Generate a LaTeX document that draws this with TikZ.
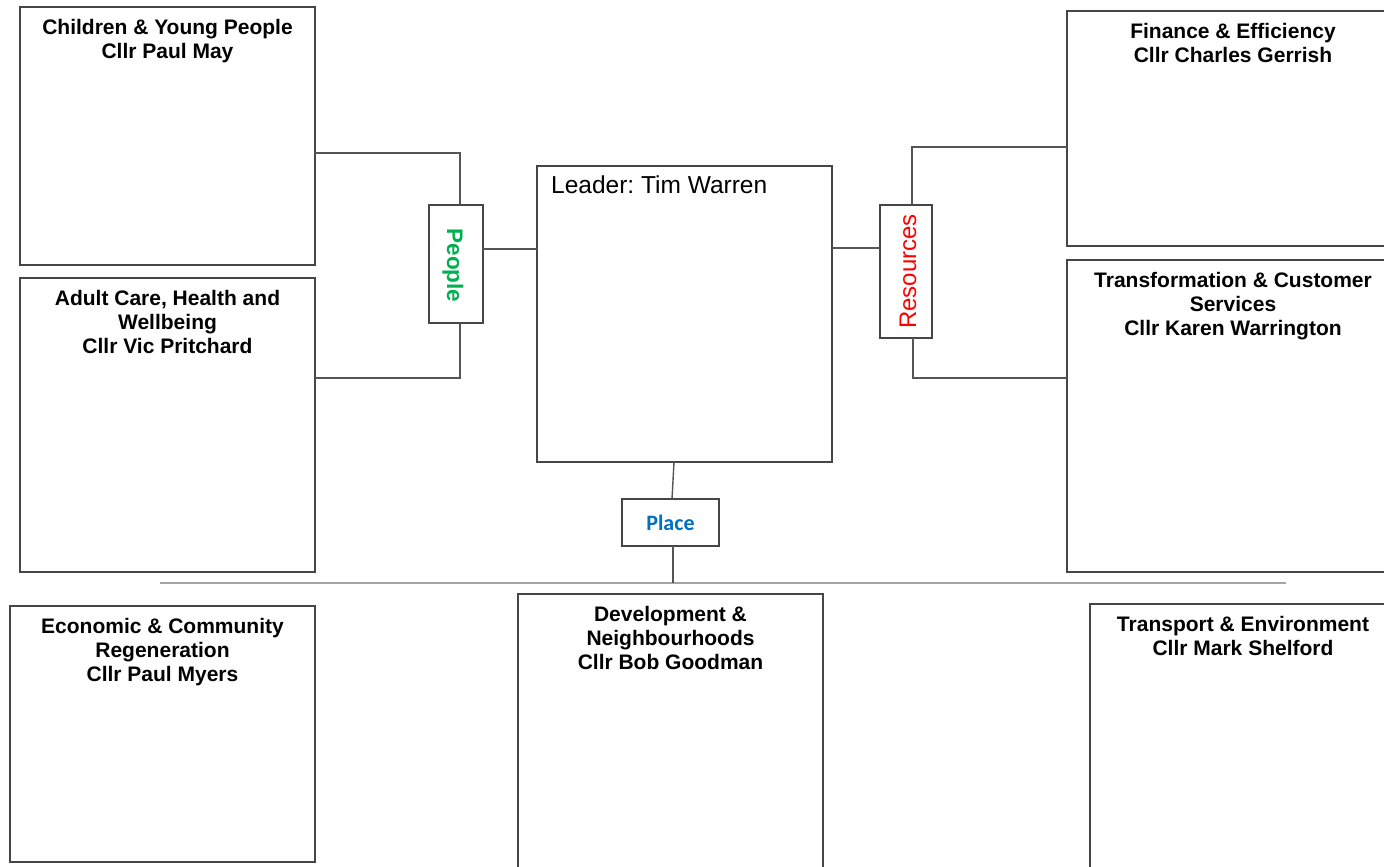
\documentclass[tikz,border=0pt]{standalone}
\usepackage{fontspec}
\setmainfont{Liberation Sans}
\newfontfamily\placefont{Carlito}
\definecolor{boxline}{RGB}{70,70,70}
\definecolor{connline}{RGB}{85,85,85}
\definecolor{rail}{RGB}{165,165,165}
\definecolor{pgreen}{RGB}{0,176,80}
\definecolor{pblue}{RGB}{0,112,192}
\frenchspacing
\begin{document}
\begin{tikzpicture}[x=1pt,y=-1pt,
  box/.style={draw=boxline,line width=1.4pt,fill=white,inner sep=0pt,outer sep=0pt},
  title/.style={font=\bfseries\fontsize{21}{24}\selectfont,align=center,inner sep=0pt,anchor=north},
  conn/.style={draw=connline,line width=1.4pt},
  railstyle/.style={draw=rail,line width=2.4pt}]
\useasboundingbox[fill=white] (0,0) rectangle (1384,867);
% boxes
\node[box,minimum width=295,minimum height=258] (ch) at (167.5,136) {};
\node[box,minimum width=295,minimum height=294] (ad) at (167.5,425) {};
\node[box,minimum width=332,minimum height=235] (fi) at (1233,128.5) {};
\node[box,minimum width=332,minimum height=312] (tr) at (1233,416) {};
\node[box,minimum width=295,minimum height=296] (ld) at (684.5,314) {};
\node[box,minimum width=305,minimum height=256] (ec) at (162.5,734) {};
\node[box,minimum width=305,minimum height=306] (dv) at (670.5,747) {};
\node[box,minimum width=306,minimum height=296] (tp) at (1243,752) {};
% titles
\node[title] (cht) at ([yshift=-12pt]ch.north) {Children \& Young People\\Cllr Paul May};
\node[title] (adt) at ([yshift=-12pt]ad.north) {Adult Care, Health and\\Wellbeing\\Cllr Vic Pritchard};
\node[title] (fit) at ([yshift=-12pt]fi.north) {Finance \& Efficiency\\Cllr Charles Gerrish};
\node[title] (trt) at ([yshift=-12pt]tr.north) {Transformation \& Customer\\Services\\Cllr Karen Warrington};
\node[title] (ect) at ([yshift=-12pt]ec.north) {Economic \& Community\\Regeneration\\Cllr Paul Myers};
\node[title] (dvt) at ([yshift=-12pt]dv.north) {Development \&\\Neighbourhoods\\Cllr Bob Goodman};
\node[title] (tpt) at ([yshift=-12pt]tp.north) {Transport \& Environment\\Cllr Mark Shelford};
\node[anchor=north west,inner sep=0pt,font=\fontsize{24.5}{28}\selectfont] (ldt) at ([xshift=14pt,yshift=-10pt]ld.north west) {Leader: Tim Warren};
% group boxes
\node[box,minimum width=54,minimum height=118] (pe) at (456,264) {};
\node[rotate=-90,text=pgreen,font=\bfseries\fontsize{22.5}{26}\selectfont,inner sep=0pt] (pet) at (453,265.5) {People};
\node[box,minimum width=52,minimum height=133] (rs) at (906,271.5) {};
\node[rotate=90,text=red,font=\fontsize{24}{28}\selectfont,inner sep=0pt] (rst) at (908,271.5) {Resources};
\node[box,minimum width=97,minimum height=47] (pl) at (670.5,522.5) {};
\node[text=pblue,font=\placefont\bfseries\fontsize{22}{26}\selectfont,inner sep=0pt] (plt) at (670.5,522.5) {Place};
% rail
\coordinate (r1) at (160,583);
\coordinate (r2) at (1286,583);
\draw[railstyle] (r1) -- (r2);
% connectors
\draw[conn] (ch.east |- {0,153}) -| ([xshift=4pt]pe.north);
\draw[conn] (ad.east |- {0,378}) -| ([xshift=4pt]pe.south);
\draw[conn] (pe.east |- {0,249}) -- (ld.west |- {0,249});
\draw[conn] (ld.east |- {0,248}) -- (rs.west |- {0,248});
\draw[conn] ([xshift=6pt]rs.north) |- (fi.west |- {0,147});
\draw[conn] ([xshift=7pt]rs.south) |- (tr.west |- {0,378});
\draw[conn] ([xshift=-10.5pt]ld.south) -- ([xshift=1.5pt]pl.north);
\draw[conn] ([xshift=2.5pt]pl.south) -- ([xshift=2.5pt]pl.south |- r1);
\end{tikzpicture}
\end{document}
